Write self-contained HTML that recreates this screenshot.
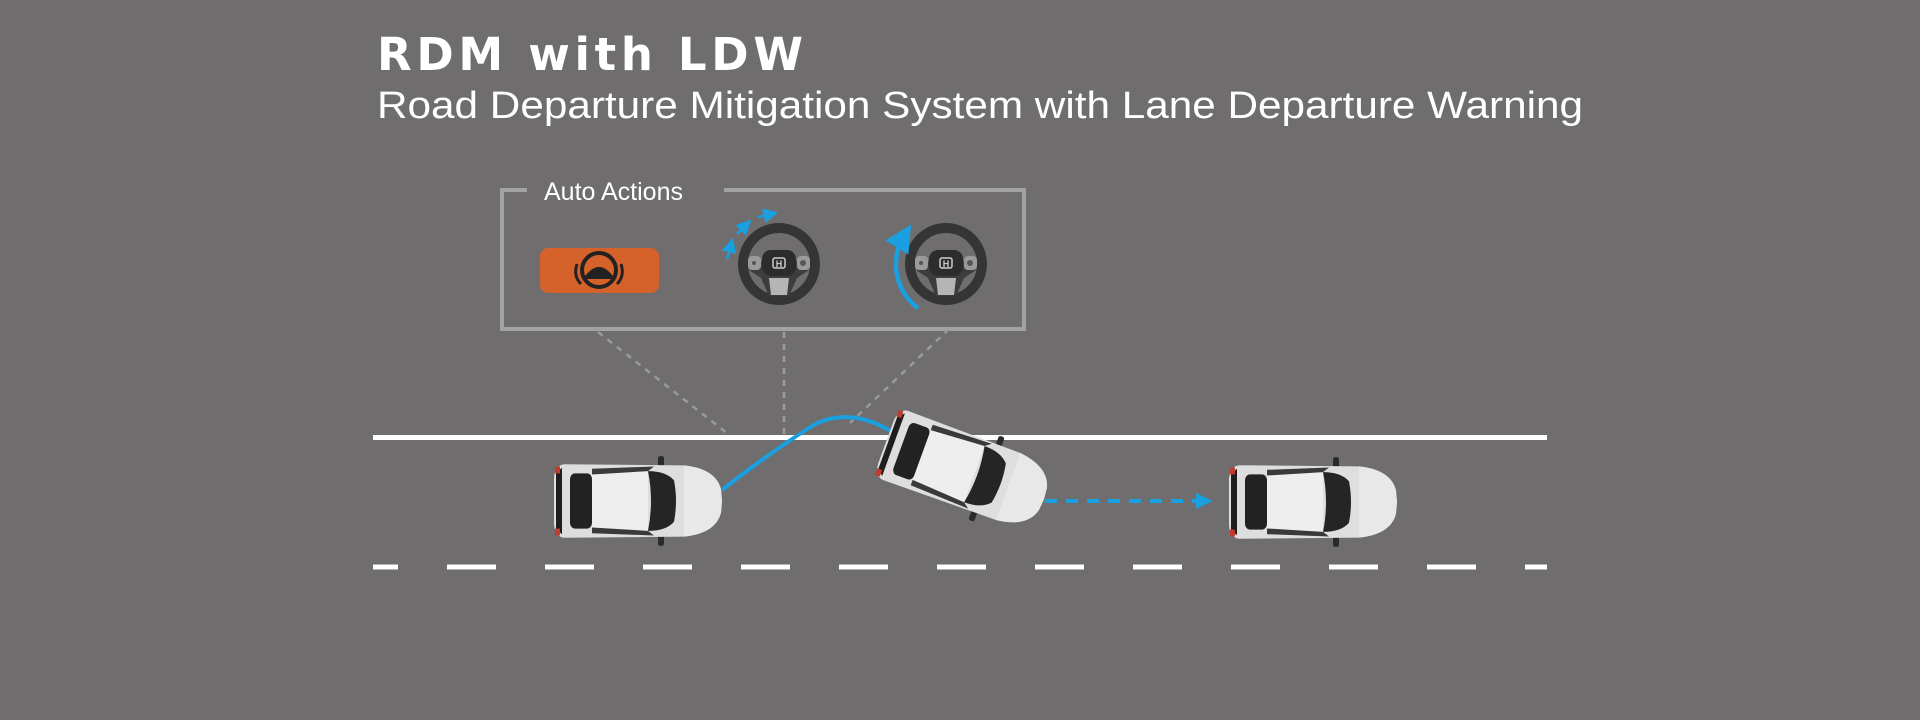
<!DOCTYPE html>
<html><head><meta charset="utf-8"><style>
html,body{margin:0;padding:0;background:#6f6d6e;}
svg{display:block;}
</style></head><body>
<svg width="1920" height="720" viewBox="0 0 1920 720" xmlns="http://www.w3.org/2000/svg">
<defs>
<g id="car">
  <rect x="104" y="-39" width="6" height="12" rx="2" fill="#2a2a2a"/>
  <rect x="104" y="27" width="6" height="12" rx="2" fill="#2a2a2a"/>
  <path d="M10,-32 L130,-31 Q162,-28 167,-10 L168,0 L167,10 Q162,28 130,31 L10,32 Q1,31 0,20 L0,-20 Q1,-31 10,-32 Z" fill="#dedede"/>
  <path d="M130,-31 Q162,-28 167,-10 L168,0 L167,10 Q162,28 130,31 Z" fill="#e8e8e8"/>
  <path d="M2,-24 L8,-29 L8,29 L2,24 Z" fill="#1e1e1e"/>
  <rect x="16" y="-24" width="22" height="48" rx="5" fill="#222"/>
  <path d="M38,-23 L94,-26 L94,26 L38,23 Z" fill="#eeeeee"/>
  <path d="M94,-26 Q112,-26 120,-18 Q124,0 120,18 Q112,26 94,26 Q100,0 94,-26 Z" fill="#252525"/>
  <path d="M38,-28 L100,-30 L94,-26 L38,-23 Z" fill="#3a3a3a"/>
  <path d="M38,28 L100,30 L94,26 L38,23 Z" fill="#3a3a3a"/>
  <rect x="1" y="-30" width="5" height="6" fill="#c23a30"/>
  <rect x="1" y="24" width="5" height="6" fill="#c23a30"/>
</g>
<g id="wheel">
  <circle r="36" fill="none" stroke="#353535" stroke-width="10"/>
  <path d="M-30,6 L-16,-4 L16,-4 L30,6 L18,14 L10,32 L-10,32 L-18,14 Z" fill="#3d3d3d"/>
  <path d="M-10,14 L10,14 L8,31 L-8,31 Z" fill="#b5b5b5"/>
  <rect x="-17" y="-14" width="34" height="26" rx="9" fill="#2c2c2c"/>
  <rect x="-31" y="-8" width="13" height="14" rx="4" fill="#9a9a9a"/>
  <rect x="18" y="-8" width="13" height="14" rx="4" fill="#9a9a9a"/>
  <circle cx="24" cy="-1" r="3" fill="#555"/>
  <circle cx="-25" cy="-1" r="2" fill="#555"/>
  <rect x="-6" y="-6" width="12" height="10" rx="2" fill="none" stroke="#ccc" stroke-width="1.5"/>
  <text x="0" y="3" font-family="Liberation Sans, sans-serif" font-size="9" font-weight="bold" fill="#ccc" text-anchor="middle">H</text>
</g>
<marker id="ah" markerWidth="6" markerHeight="6" refX="3" refY="3" orient="auto" markerUnits="strokeWidth">
  <path d="M0,0 L6,3 L0,6 Z" fill="#1aa0e0"/>
</marker>
</defs>

<text x="377" y="70" font-family="DejaVu Sans, sans-serif" font-weight="bold" font-size="45" fill="#fff" textLength="426" lengthAdjust="spacing">RDM with LDW</text>
<text x="377" y="118" font-family="Liberation Sans, sans-serif" font-size="38" fill="#fff" textLength="1206" lengthAdjust="spacingAndGlyphs">Road Departure Mitigation System with Lane Departure Warning</text>

<path d="M527,190 L502,190 L502,329 L1024,329 L1024,190 L724,190" fill="none" stroke="#a2a2a4" stroke-width="4"/>
<text x="544" y="200" font-family="Liberation Sans, sans-serif" font-size="25" fill="#fff">Auto Actions</text>
<rect x="540" y="248" width="119" height="45" rx="8" fill="#d4622a"/>
<g transform="translate(599,270)" fill="none" stroke="#222">
  <circle r="17" stroke-width="4"/>
  <path d="M-14,8 Q0,-12 14,8 Z" fill="#222" stroke-width="2"/>
  <path d="M-22,-6 Q-26,6 -18,14" stroke-width="3"/>
  <path d="M22,-6 Q26,6 18,14" stroke-width="3"/>
</g>
<use href="#wheel" x="779" y="264"/>
<use href="#wheel" x="946" y="264"/>
<g stroke="#1aa0e0" stroke-width="2.5" fill="none">
  <path d="M727,259 L731,245" marker-end="url(#ah)"/>
  <path d="M737,234 L746,225" marker-end="url(#ah)"/>
  <path d="M758,217 L771,214" marker-end="url(#ah)"/>
</g>
<path d="M918,308 A54,54 0 0 1 904,236" fill="none" stroke="#1aa0e0" stroke-width="4.5" marker-end="url(#ah)"/>

<g stroke="#9a9a9a" stroke-width="2.5" stroke-dasharray="6,6" fill="none">
  <path d="M598,332 L737,441"/>
  <path d="M784,332 L784,437"/>
  <path d="M949,329 L850,423"/>
</g>

<rect x="373" y="435" width="1174" height="5" fill="#fff"/>
<line x1="373" y1="567" x2="1547" y2="567" stroke="#fff" stroke-width="5" stroke-dasharray="49,49" stroke-dashoffset="24"/>

<path d="M722,490 C760,460 790,440 812,426 C840,410 870,418 892,432" fill="none" stroke="#1aa0e0" stroke-width="4"/>
<path d="M1045,501 L1200,501" stroke="#1aa0e0" stroke-width="4" stroke-dasharray="12,9" fill="none"/>
<path d="M1196,493 L1213,501 L1196,509 Z" fill="#1aa0e0"/>

<use href="#car" transform="translate(554,501) scale(1,1.15)"/>
<use href="#car" transform="translate(886,442) rotate(20) scale(1,1.15)"/>
<use href="#car" transform="translate(1229,502) scale(1,1.15)"/>
</svg>
</body></html>
